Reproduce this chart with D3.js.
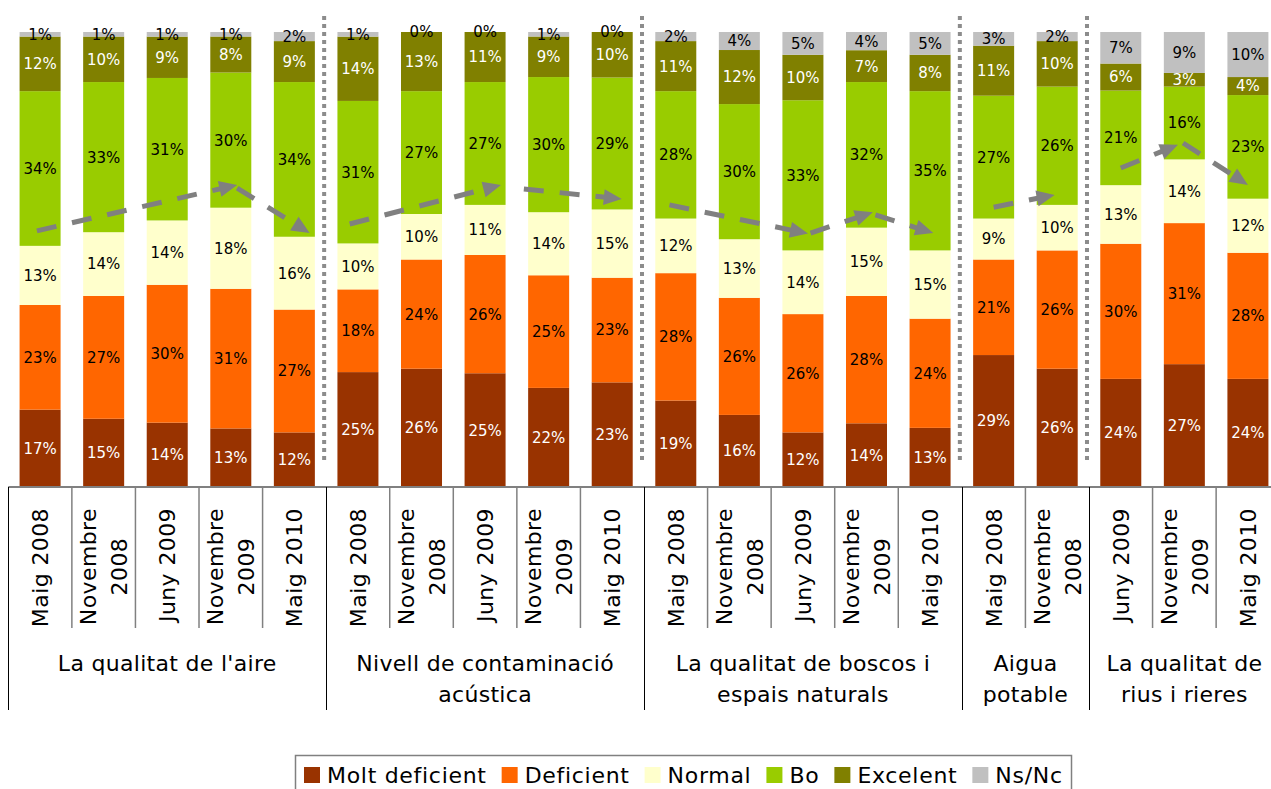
<!DOCTYPE html>
<html><head><meta charset="utf-8">
<script src="https://cdn.jsdelivr.net/npm/d3@7"></script>
<style>body{margin:0;background:#fff;overflow:hidden} svg{display:block} text{font-family:"DejaVu Sans",sans-serif}</style>
</head><body><svg id="c" width="1271" height="789"></svg>
<script>
// ---- data ----
const seriesNames = ["Molt deficient","Deficient","Normal","Bo","Excelent","Ns/Nc"];
const seriesColors = ["#993300","#FF6600","#FFFFCC","#99CC00","#808000","#C0C0C0"];
const labelColors = ["#ffffff","#000000","#000000","#000000","#ffffff","#000000"];

const groupNames = [["La qualitat de l'aire"],["Nivell de contaminació","acústica"],["La qualitat de boscos i","espais naturals"],["Aigua","potable"],["La qualitat de","rius i rieres"]];
const groupSizes = [5,5,5,2,3];

const periodLabels = [
  ["Maig 2008"],["Novembre","2008"],["Juny 2009"],["Novembre","2009"],["Maig 2010"],
  ["Maig 2008"],["Novembre","2008"],["Juny 2009"],["Novembre","2009"],["Maig 2010"],
  ["Maig 2008"],["Novembre","2008"],["Juny 2009"],["Novembre","2009"],["Maig 2010"],
  ["Maig 2008"],["Novembre","2008"],
  ["Juny 2009"],["Novembre","2009"],["Maig 2010"]
];

const moltDeficient = [17,15,14,13,12, 25,26,25,22,23, 19,16,12,14,13, 29,26, 24,27,24];
const deficient     = [23,27,30,31,27, 18,24,26,25,23, 28,26,26,28,24, 21,26, 30,31,28];
const normal        = [13,14,14,18,16, 10,10,11,14,15, 12,13,14,15,15,  9,10, 13,14,12];
const bo            = [34,33,31,30,34, 31,27,27,30,29, 28,30,33,32,35, 27,26, 21,16,23];
const excelent      = [12,10, 9, 8, 9, 14,13,11, 9,10, 11,12,10, 7, 8, 11,10,  6, 3, 4];
const nsnc          = [ 1, 1, 1, 1, 2,  1, 0, 0, 1, 0,  2, 4, 5, 4, 5,  3, 2,  7, 9,10];

// hand-drawn trend arrows: [position in bar units, percent]
const trendArrows = [
  [[-0.05,56.3],[3.10,66.4]], [[3.10,65.7],[4.24,55.8]],
  [[4.87,57.8],[7.25,66.4]],  [[7.61,65.5],[9.15,63.3]],
  [[9.90,62.0],[12.08,55.7]], [[12.12,55.8],[13.10,60.4]], [[13.14,59.8],[14.05,55.8]],
  [[15.00,61.5],[15.96,64.2]],
  [[17.00,70.1],[17.90,75.2]], [[17.98,75.6],[19.00,66.4]]
];

// ---- build ----
const seriesValues = [moltDeficient,deficient,normal,bo,excelent,nsnc];
const rows = periodLabels.map((p,i)=>{
  const r = {i};
  seriesNames.forEach((s,k)=> r[s] = seriesValues[k][i]);
  return r;
});

const svg = d3.select("#c");
const plotLeft = 8.3, plotRight = 1279.7, plotBase = 487, plotTop = 32;
const nBars = periodLabels.length;

const x = d3.scaleBand().domain(d3.range(nBars)).range([plotLeft,plotRight]).paddingInner(0.355).paddingOuter(0.1775);
const xPos = d3.scaleLinear().domain([-0.5, nBars-0.5]).range([plotLeft,plotRight]);
const y = d3.scaleLinear().domain([0,1]).range([plotBase,plotTop]);

const stackGen = d3.stack().keys(seriesNames).offset(d3.stackOffsetExpand);
const stacked = stackGen(rows);

// bars
const layers = svg.append("g").selectAll("g").data(stacked).join("g")
  .attr("fill",(d,k)=>seriesColors[k]);
layers.selectAll("rect").data(d=>d).join("rect")
  .attr("x",d=>x(d.data.i))
  .attr("width",x.bandwidth())
  .attr("y",d=>y(d[1]))
  .attr("height",d=>Math.max(0,y(d[0])-y(d[1])));

// percent labels
const lab = svg.append("g");
stacked.forEach((layer,k)=>{
  lab.append("g").selectAll("text").data(layer).join("text")
    .attr("x",d=>x(d.data.i)+x.bandwidth()/2)
    .attr("y",d=>(y(d[0])+y(d[1]))/2)
    .attr("dy","0.36em")
    .attr("text-anchor","middle")
    .attr("font-size",15)
    .attr("fill",labelColors[k])
    .text(d=>d.data[seriesNames[k]]+"%");
});

// group boundaries
const bounds = [0];
groupSizes.forEach(s=>bounds.push(bounds[bounds.length-1]+s));
const inner = bounds.slice(1,-1);

// dotted separators in plot
svg.append("g").selectAll("line").data(inner).join("line")
  .attr("x1",b=>xPos(b-0.5)-2).attr("x2",b=>xPos(b-0.5)-2)
  .attr("y1",16).attr("y2",460)
  .attr("stroke","#8c8c8c").attr("stroke-width",4).attr("stroke-dasharray","4,4");

// trend arrows
const ag = svg.append("g");
trendArrows.forEach(a=>{
  const p0 = [xPos(a[0][0]), y(a[0][1]/100)];
  const p1 = [xPos(a[1][0]), y(a[1][1]/100)];
  const dx = p1[0]-p0[0], dy = p1[1]-p0[1];
  const L = Math.hypot(dx,dy);
  const ux = dx/L, uy = dy/L, px = -uy, py = ux;
  const hl = 18, hw = 8;
  const bx = p1[0]-ux*hl, by = p1[1]-uy*hl;
  ag.append("line")
    .attr("x1",p0[0]).attr("y1",p0[1]).attr("x2",bx+ux*2).attr("y2",by+uy*2)
    .attr("stroke","#808080").attr("stroke-width",5).attr("stroke-dasharray","20,16");
  ag.append("path")
    .attr("d",`M${p1[0]},${p1[1]}L${bx+px*hw},${by+py*hw}L${bx-px*hw},${by-py*hw}Z`)
    .attr("fill","#808080");
});

// axis line
svg.append("line").attr("x1",plotLeft).attr("x2",plotRight).attr("y1",plotBase).attr("y2",plotBase)
  .attr("stroke","#808080").attr("stroke-width",2);

// category separators
const catB = d3.range(1,nBars).filter(b=>!bounds.includes(b));
svg.append("g").selectAll("line").data(catB).join("line")
  .attr("x1",b=>xPos(b-0.5)).attr("x2",b=>xPos(b-0.5))
  .attr("y1",plotBase).attr("y2",628)
  .attr("stroke","#808080").attr("stroke-width",1.5);
svg.append("g").selectAll("line").data(bounds).join("line")
  .attr("x1",b=>Math.round(xPos(b-0.5))+0.5).attr("x2",b=>Math.round(xPos(b-0.5))+0.5)
  .attr("y1",plotBase).attr("y2",710)
  .attr("stroke","#000").attr("stroke-width",1);

// category labels (rotated)
const catFont = 22, lineGap = 31;
periodLabels.forEach((lines,i)=>{
  const cx = x(i)+x.bandwidth()/2;
  const g = svg.append("g").attr("transform",`translate(${cx},508) rotate(-90)`);
  const ts = lines.map((t,k)=> g.append("text")
    .attr("font-size",catFont).attr("letter-spacing","0.4px")
    .attr("text-anchor","middle")
    .attr("y",(k-(lines.length-1)/2)*lineGap)
    .attr("dy","0.36em")
    .attr("fill","#000").text(t));
  const maxL = d3.max(ts, t=>t.node().getComputedTextLength());
  ts.forEach(t=>t.attr("x",-maxL/2));
});

// group labels
groupNames.forEach((lines,gi)=>{
  const cx = (xPos(bounds[gi]-0.5)+xPos(bounds[gi+1]-0.5))/2;
  lines.forEach((t,k)=>{
    svg.append("text").attr("x",cx).attr("y",671+k*31)
      .attr("text-anchor","middle").attr("font-size",catFont).attr("letter-spacing","0.3px")
      .attr("fill","#000").text(t);
  });
});

// legend
const lg = svg.append("g");
lg.append("rect").attr("x",295.5).attr("y",755.5).attr("width",776).attr("height",60)
  .attr("fill","#fff").attr("stroke","#808080").attr("stroke-width",1.5);
let cur = 304;
seriesNames.forEach((s,k)=>{
  lg.append("rect").attr("x",cur).attr("y",767).attr("width",16).attr("height",16)
    .attr("fill",seriesColors[k]);
  const t = lg.append("text").attr("x",cur+23).attr("y",783)
    .attr("font-size",22).attr("letter-spacing","0.7px").attr("fill","#000").text(s);
  cur += 23 + t.node().getComputedTextLength() + 15;
});
</script>
</body></html>
